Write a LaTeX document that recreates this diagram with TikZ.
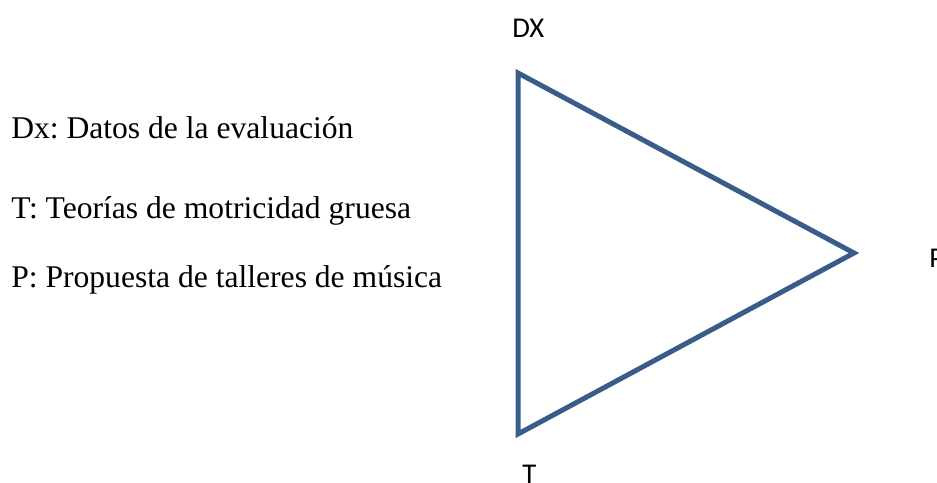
\documentclass[tikz,border=0pt]{standalone}
\usepackage{fontspec}
\setmainfont{Liberation Serif}
\newfontfamily\labelfont{Carlito}
\definecolor{edgeblue}{RGB}{56,93,138}
\frenchspacing

\begin{document}
\begin{tikzpicture}[x=0.75pt,y=-0.75pt,
    legend/.style={anchor=base west,inner sep=0pt,font=\fontsize{23.7}{28}\selectfont},
    vertexlabel/.style={anchor=base west,inner sep=0pt,font=\labelfont\fontsize{21.5}{25}\selectfont}]
    \useasboundingbox (0,0) rectangle (937,482);
    % Vertices
    \coordinate (dx) at (518,73);
    \coordinate (p) at (854,253);
    \coordinate (t) at (518,434);
    % Triangle
    \draw[edgeblue,line width=3.75pt,line join=miter] (dx) -- (p) -- (t) -- cycle;
    % Vertex labels
    \node[vertexlabel] (dxlabel) at (512,37) {DX};
    \node[vertexlabel] (plabel) at (929,267) {P};
    \node[vertexlabel] (tlabel) at (522,483) {T};
    % Legend
    \node[legend] (legdx) at (11,138) {Dx: Datos de la evaluación};
    \node[legend] (legt) at (11,218) {T: Teorías de motricidad gruesa};
    \node[legend] (legp) at (11,287) {P: Propuesta de talleres de música};
\end{tikzpicture}
\end{document}
